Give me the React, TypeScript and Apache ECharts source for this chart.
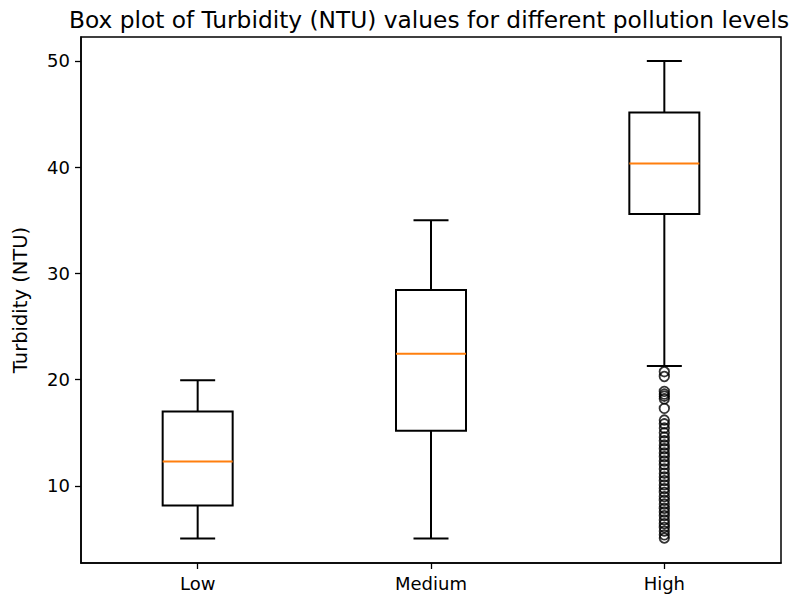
import React, { useEffect, useRef } from "react";
import * as echarts from "echarts";

const categories = ["Low", "Medium", "High"];
const whiskerLow = [5.05, 5.05, 21.3];
const q1 = [8.15, 15.2, 35.6];
const median = [12.3, 22.45, 40.35];
const q3 = [17.0, 28.45, 45.15];
const whiskerHigh = [19.95, 35.0, 50.0];
const highOutliers = [
  20.75, 20.3, 18.9, 18.65, 18.45, 18.2, 17.3, 16.2, 15.85, 15.45, 15.0, 14.6,
  14.25, 13.85, 13.5, 13.1, 12.75, 12.35, 12.0, 11.6, 11.2, 10.85, 10.5, 10.1,
  9.75, 9.4, 9.0, 8.65, 8.3, 7.9, 7.55, 7.2, 6.8, 6.45, 6.1, 5.75, 5.4, 5.1,
];
const yTicks = [10, 20, 30, 40, 50];

const titleText = "Box plot of Turbidity (NTU) values for different pollution levels";
const yName = "Turbidity (NTU)";

export default function App() {
  const ref = useRef<HTMLDivElement>(null);
  useEffect(() => {
    if (!ref.current) return;
    const chart = echarts.init(ref.current, null, { renderer: "svg" });
    const boxData = categories.map((_, i) => [i, whiskerLow[i], q1[i], median[i], q3[i], whiskerHigh[i]]);
    const font = "DejaVu Sans";
    const stroke = "#000";
    chart.setOption({
      animation: false,
      backgroundColor: "#fff",
      textStyle: { fontFamily: font },
      graphic: [
        {
          type: "text",
          x: 429,
          y: 19,
          style: {
            text: titleText,
            font: `23.3px "${font}"`,
            fill: "#000",
            textAlign: "center",
            textVerticalAlign: "middle",
          },
        },
      ],
      grid: {
        left: 81,
        right: 19,
        top: 37,
        bottom: 34,
        show: true,
        borderColor: stroke,
        borderWidth: 1.5,
        backgroundColor: "transparent",
      },
      xAxis: {
        type: "category",
        data: categories,
        boundaryGap: true,
        axisLine: { show: true, lineStyle: { color: stroke, width: 1.5 } },
        axisTick: { show: true, alignWithLabel: true, length: 6, lineStyle: { color: stroke, width: 1.3 } },
        axisLabel: { color: "#000", fontSize: 18, fontFamily: font, margin: 11 },
        splitLine: { show: false },
      },
      yAxis: {
        type: "value",
        min: 2.75,
        max: 52.25,
        name: yName,
        nameLocation: "middle",
        nameRotate: 90,
        nameGap: 51,
        nameTextStyle: { color: "#000", fontSize: 19.5, fontFamily: font },
        axisLine: { show: true, lineStyle: { color: stroke, width: 1.5 } },
        axisTick: { show: true, length: 6, customValues: yTicks, lineStyle: { color: stroke, width: 1.3 } },
        axisLabel: {
          color: "#000",
          fontSize: 18,
          fontFamily: font,
          margin: 11,
          customValues: yTicks,
          formatter: (v: number) => String(Math.round(v)),
        },
        splitLine: { show: false },
      },
      series: [
        {
          type: "custom",
          data: boxData,
          encode: { x: 0, y: [1, 2, 3, 4, 5] },
          renderItem: (params: any, api: any) => {
            const idx = api.value(0);
            const band = api.size([1, 0])[0];
            const bw = band * 0.3;
            const cw = band * 0.15;
            const x = api.coord([idx, api.value(3)])[0];
            const yLo = api.coord([idx, api.value(1)])[1];
            const yQ1 = api.coord([idx, api.value(2)])[1];
            const yMed = api.coord([idx, api.value(3)])[1];
            const yQ3 = api.coord([idx, api.value(4)])[1];
            const yHi = api.coord([idx, api.value(5)])[1];
            const ls = { stroke: "#000", lineWidth: 2, fill: null };
            return {
              type: "group",
              children: [
                { type: "line", shape: { x1: x, y1: yQ1, x2: x, y2: yLo }, style: ls },
                { type: "line", shape: { x1: x, y1: yQ3, x2: x, y2: yHi }, style: ls },
                { type: "line", shape: { x1: x - cw / 2, y1: yLo, x2: x + cw / 2, y2: yLo }, style: ls },
                { type: "line", shape: { x1: x - cw / 2, y1: yHi, x2: x + cw / 2, y2: yHi }, style: ls },
                {
                  type: "rect",
                  shape: { x: x - bw / 2, y: yQ3, width: bw, height: yQ1 - yQ3 },
                  style: { stroke: "#000", lineWidth: 2, fill: "none" },
                },
                {
                  type: "line",
                  shape: { x1: x - bw / 2, y1: yMed, x2: x + bw / 2, y2: yMed },
                  style: { stroke: "#ff7f0e", lineWidth: 2 },
                },
              ],
            };
          },
        },
        {
          type: "scatter",
          data: highOutliers.map((v) => [2, v]),
          symbol: "circle",
          symbolSize: 9.5,
          itemStyle: { color: "rgba(0,0,0,0)", borderColor: "#000", borderWidth: 1.8 },
        },
      ],
    });
    return () => chart.dispose();
  }, []);
  return <div ref={ref} style={{ position: "fixed", left: 0, top: 0, width: 800, height: 597 }} />;
}
